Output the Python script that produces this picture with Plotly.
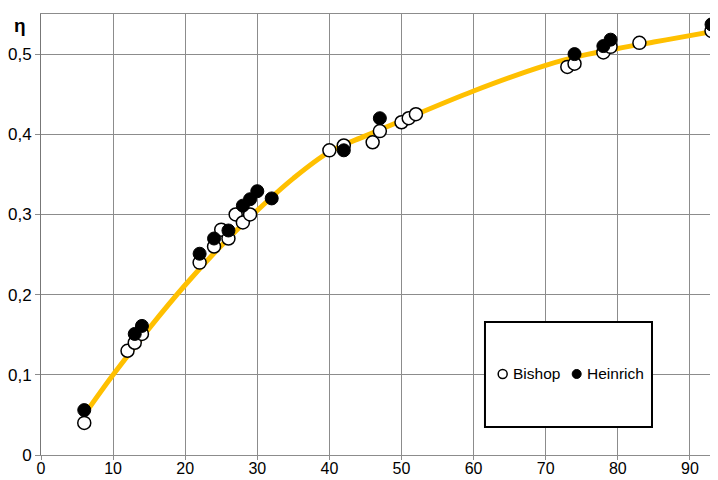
import plotly.graph_objects as go

# Data
bishop_x = [6, 12, 13, 14, 22, 24, 25, 26, 27, 28, 29, 40, 42, 46, 47, 50, 51, 52, 73, 74, 78, 79, 83, 93]
bishop_y = [0.04, 0.13, 0.14, 0.151, 0.24, 0.26, 0.281, 0.27, 0.30, 0.29, 0.30, 0.38, 0.386, 0.39, 0.404,
            0.415, 0.42, 0.425, 0.484, 0.488, 0.502, 0.509, 0.514, 0.529]

heinrich_x = [6, 13, 14, 22, 24, 26, 28, 29, 30, 32, 42, 47, 74, 78, 79, 93]
heinrich_y = [0.056, 0.151, 0.161, 0.251, 0.27, 0.28, 0.311, 0.319, 0.329, 0.32, 0.38, 0.42, 0.50, 0.51,
              0.518, 0.537]

fit_x = [6, 10, 15, 20, 25, 30, 35, 40, 45, 50, 60, 70, 75, 80, 85, 90, 93]
fit_y = [0.05, 0.10, 0.158, 0.212, 0.261, 0.305, 0.345, 0.378, 0.398, 0.417, 0.454, 0.486, 0.498, 0.507,
         0.515, 0.523, 0.528]

x_ticks = [0, 10, 20, 30, 40, 50, 60, 70, 80, 90]
x_tick_labels = ["0", "10", "20", "30", "40", "50", "60", "70", "80", "90"]
y_ticks = [0, 0.1, 0.2, 0.3, 0.4, 0.5]
y_tick_labels = ["0", "0,1", "0,2", "0,3", "0,4", "0,5"]
series_names = ["Bishop", "Heinrich"]

FONT = "Liberation Sans, Arial, sans-serif"
GRID = "#8c8c8c"

fig = go.Figure()

fig.add_trace(go.Scatter(
    x=fit_x, y=fit_y, mode="lines", showlegend=False, hoverinfo="skip",
    line=dict(color="#FFC000", width=5, shape="spline", smoothing=1.0),
))
fig.add_trace(go.Scatter(
    x=bishop_x, y=bishop_y, mode="markers", name=series_names[0], showlegend=False, cliponaxis=False,
    marker=dict(symbol="circle", size=13, color="white", line=dict(color="black", width=1.5)),
))
fig.add_trace(go.Scatter(
    x=heinrich_x, y=heinrich_y, mode="markers", name=series_names[1], showlegend=False, cliponaxis=False,
    marker=dict(symbol="circle", size=13, color="black", line=dict(color="black", width=1)),
))

# Legend box drawn manually (tight Excel-style legend)
shapes = [
    dict(type="rect", xref="paper", yref="paper", x0=0.6558, x1=0.9025, y0=0.0635, y1=0.3016,
         line=dict(color="black", width=2), fillcolor="white", layer="above"),
    dict(type="circle", xref="paper", yref="paper", x0=0.6753, x1=0.6886, y0=0.1735, y1=0.1939,
         line=dict(color="black", width=1.5), fillcolor="white", layer="above"),
    dict(type="circle", xref="paper", yref="paper", x0=0.7846, x1=0.7979, y0=0.1735, y1=0.1939,
         line=dict(color="black", width=1), fillcolor="black", layer="above"),
]

annotations = [
    dict(text="<b>η</b>", xref="paper", yref="paper", x=-0.031, y=0.975, xanchor="center",
         yanchor="middle", showarrow=False, font=dict(size=19, family=FONT, color="black")),
    dict(text=series_names[0], xref="paper", yref="paper", x=0.6942, y=0.1837, xanchor="left",
         yanchor="middle", showarrow=False, font=dict(size=15.5, family=FONT, color="black")),
    dict(text=series_names[1], xref="paper", yref="paper", x=0.8035, y=0.1837, xanchor="left",
         yanchor="middle", showarrow=False, font=dict(size=15.5, family=FONT, color="black")),
]

# The page body has an 8px margin, so the figure is sized/offset to compensate.
fig.update_layout(
    width=710, height=472,
    margin=dict(l=33, r=0, t=6, b=25),
    paper_bgcolor="white", plot_bgcolor="white",
    font=dict(family=FONT, size=17, color="black"),
    showlegend=False,
    xaxis=dict(
        range=[0, 93.9], tickvals=x_ticks, ticktext=x_tick_labels, automargin=False,
        showgrid=True, gridcolor=GRID, gridwidth=1, zeroline=False,
        showline=True, linecolor=GRID, linewidth=1, mirror=True,
        ticks="outside", ticklen=4, tickcolor=GRID, ticklabelstandoff=-5,
        tickfont=dict(size=16),
    ),
    yaxis=dict(
        range=[0, 0.55], tickvals=y_ticks, ticktext=y_tick_labels, automargin=False,
        showgrid=True, gridcolor=GRID, gridwidth=1, zeroline=False,
        showline=True, linecolor="#777777", linewidth=1,
        ticks="outside", ticklen=5, tickcolor=GRID,
    ),
    shapes=shapes,
    annotations=annotations,
)

fig.write_html("out.html")
